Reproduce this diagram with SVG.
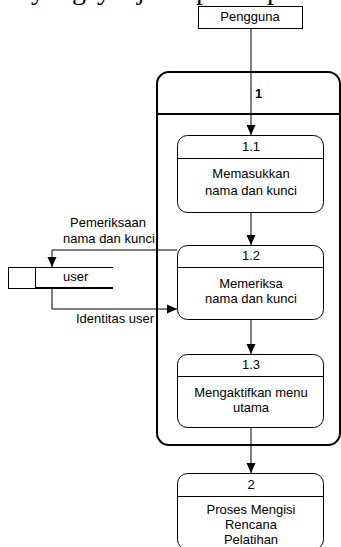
<svg xmlns="http://www.w3.org/2000/svg" width="341" height="547" viewBox="0 0 341 547">
<defs>
<marker id="ah" viewBox="0 0 10 10" refX="10" refY="5" markerWidth="10" markerHeight="10" markerUnits="userSpaceOnUse" orient="auto">
<path d="M0,0.5 L10,5 L0,9.5 Z" fill="#000"/>
</marker>
<style>
text{font-family:"Liberation Sans",Arial,sans-serif;font-size:13px;fill:#000}
.c{text-anchor:middle}
.frag{font-family:"Liberation Serif","Times New Roman",serif;font-size:28px}
.proc{fill:#fff;stroke:#000;stroke-width:1}
.ln{stroke:#000;stroke-width:1;fill:none}
</style>
</defs>
<rect width="341" height="547" fill="#fff"/>
<g id="page-fragment">
<text class="frag" x="31" y="-1">y</text>
<text class="frag" x="72" y="-1">g</text>
<text class="frag" x="97" y="-1">y</text>
<text class="frag" x="137" y="-1">j</text>
<text class="frag" x="196" y="-1">p</text>
<text class="frag" x="267" y="-1">p</text>
</g>
<g id="connectors">
<path class="ln" d="M251,28 V135" marker-end="url(#ah)"/>
<path class="ln" d="M251,212 V245" marker-end="url(#ah)"/>
<path class="ln" d="M251,319 V354" marker-end="url(#ah)"/>
<path class="ln" d="M251,427 V473" marker-end="url(#ah)"/>
<path class="ln" d="M177,250 H52 V267" marker-end="url(#ah)"/>
<path class="ln" d="M52,288 V309 H177" marker-end="url(#ah)"/>
<text x="70" y="227">Pemeriksaan</text>
<text x="63" y="243">nama dan kunci</text>
<text x="76" y="323">Identitas user</text>
</g>
<g id="pengguna">
<rect x="198.5" y="6.5" width="104" height="22" fill="#fff" stroke="#000"/>
<text class="c" x="250" y="21">Pengguna</text>
</g>
<g id="process-1">
<rect x="157" y="72" width="183" height="373" rx="12" fill="none" stroke="#000" stroke-width="2"/>
<line x1="157" y1="114" x2="340" y2="114" stroke="#000" stroke-width="2"/>
<text x="255" y="98" style="font-weight:bold">1</text>
</g>
<g id="process-1-1">
<rect class="proc" x="177.5" y="135.5" width="146" height="77" rx="10"/>
<line class="ln" x1="177.5" y1="158.5" x2="323.5" y2="158.5"/>
<text class="c" x="251" y="151">1.1</text>
<text class="c" x="251" y="178">Memasukkan</text>
<text class="c" x="251" y="195">nama dan kunci</text>
</g>
<g id="process-1-2">
<rect class="proc" x="177.5" y="245.5" width="146" height="74" rx="10"/>
<line class="ln" x1="177.5" y1="267.5" x2="323.5" y2="267.5"/>
<text class="c" x="251" y="260">1.2</text>
<text class="c" x="251" y="288">Memeriksa</text>
<text class="c" x="251" y="303">nama dan kunci</text>
</g>
<g id="process-1-3">
<rect class="proc" x="177.5" y="354.5" width="146" height="73" rx="10"/>
<line class="ln" x1="177.5" y1="376.5" x2="323.5" y2="376.5"/>
<text class="c" x="251" y="369">1.3</text>
<text class="c" x="251" y="397">Mengaktifkan menu</text>
<text class="c" x="251" y="412">utama</text>
</g>
<g id="process-2">
<rect class="proc" x="177.5" y="473.5" width="146" height="76" rx="10"/>
<line class="ln" x1="177.5" y1="496.5" x2="323.5" y2="496.5"/>
<text class="c" x="251" y="489">2</text>
<text class="c" x="251" y="514">Proses Mengisi</text>
<text class="c" x="251" y="529">Rencana</text>
<text class="c" x="251" y="544">Pelatihan</text>
</g>
<g id="store-user">
<rect x="8.5" y="267.5" width="27" height="21" fill="#fff" stroke="#000"/>
<line x1="35" y1="267.5" x2="113" y2="267.5" stroke="#000"/>
<line x1="35" y1="288" x2="113" y2="288" stroke="#000" stroke-width="2"/>
<text x="63" y="281">user</text>
</g>
</svg>
